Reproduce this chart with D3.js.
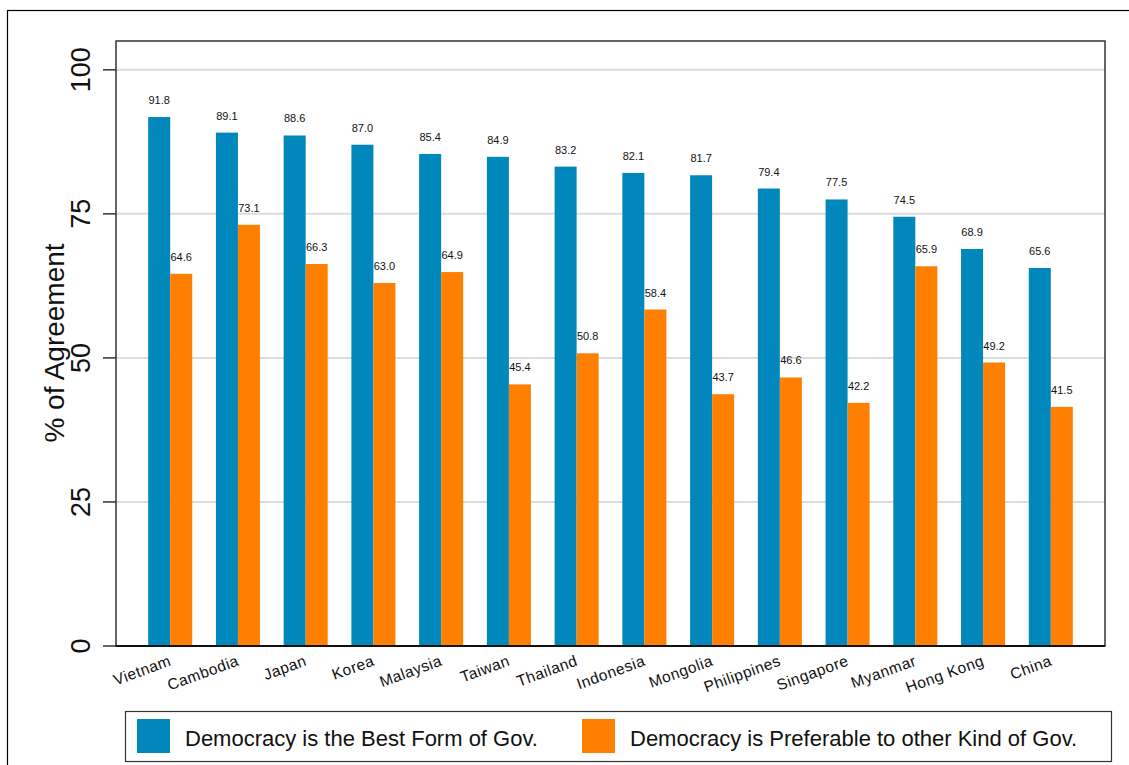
<!DOCTYPE html>
<html>
<head>
<meta charset="utf-8">
<script src="https://cdn.jsdelivr.net/npm/d3@7"></script>
<style>
  body { margin: 0; background: #fff; }
  text { font-family: "Liberation Sans", Arial, sans-serif; fill: #111; }
</style>
</head>
<body>
<svg id="chart" width="1129" height="765"></svg>
<script>
const countries = ["Vietnam", "Cambodia", "Japan", "Korea", "Malaysia", "Taiwan", "Thailand",
  "Indonesia", "Mongolia", "Philippines", "Singapore", "Myanmar", "Hong Kong", "China"];
const bestForm = [91.8, 89.1, 88.6, 87.0, 85.4, 84.9, 83.2, 82.1, 81.7, 79.4, 77.5, 74.5, 68.9, 65.6];
const preferable = [64.6, 73.1, 66.3, 63.0, 64.9, 45.4, 50.8, 58.4, 43.7, 46.6, 42.2, 65.9, 49.2, 41.5];
const yTicks = [0, 25, 50, 75, 100];
const seriesNames = ["Democracy is the Best Form of Gov.", "Democracy is Preferable to other Kind of Gov."];
const colors = ["#0088bd", "#ff8000"];

const svg = d3.select("#chart");

// outer frame (runs past the right/bottom edge)
svg.append("rect")
  .attr("x", 7.5).attr("y", 10.5)
  .attr("width", 1140).attr("height", 780)
  .attr("fill", "none").attr("stroke", "#000").attr("stroke-width", 1.2);

const plot = {left: 116, top: 41, right: 1105, bottom: 646};

const x = d3.scaleBand()
  .domain(countries)
  .range([plot.left, plot.right])
  .paddingInner(0)
  .paddingOuter(0.3);

const y = d3.scaleLinear()
  .domain([0, 105])
  .range([plot.bottom, plot.top]);

const barW = x.step() * 0.325;

// grid
svg.append("g").selectAll("line")
  .data(yTicks.filter(d => d > 0))
  .enter().append("line")
  .attr("x1", plot.left).attr("x2", plot.right)
  .attr("y1", d => y(d)).attr("y2", d => y(d))
  .attr("stroke", "#dcdcdc").attr("stroke-width", 2);

// bars
const series = [bestForm, preferable];
series.forEach((vals, s) => {
  const g = svg.append("g");
  g.selectAll("rect")
    .data(countries)
    .enter().append("rect")
    .attr("x", (d, i) => x(d) + x.bandwidth() / 2 + (s === 0 ? -barW : 0))
    .attr("y", (d, i) => y(vals[i]))
    .attr("width", barW)
    .attr("height", (d, i) => y(0) - y(vals[i]))
    .attr("fill", colors[s]);

  g.selectAll("text")
    .data(countries)
    .enter().append("text")
    .attr("x", (d, i) => x(d) + x.bandwidth() / 2 + (s === 0 ? -barW / 2 : barW / 2))
    .attr("y", (d, i) => y(vals[i]) - 13)
    .attr("text-anchor", "middle")
    .style("font-size", "11px")
    .text((d, i) => vals[i].toFixed(1));
});

// plot border
svg.append("rect")
  .attr("x", plot.left).attr("y", plot.top)
  .attr("width", plot.right - plot.left).attr("height", plot.bottom - plot.top)
  .attr("fill", "none").attr("stroke", "#333").attr("stroke-width", 1.5);
svg.append("line")
  .attr("x1", plot.left).attr("x2", plot.right)
  .attr("y1", plot.bottom).attr("y2", plot.bottom)
  .attr("stroke", "#111").attr("stroke-width", 2);

// y axis ticks and labels
const yAxis = svg.append("g");
yAxis.selectAll("line")
  .data(yTicks)
  .enter().append("line")
  .attr("x1", plot.left - 13).attr("x2", plot.left)
  .attr("y1", d => y(d)).attr("y2", d => y(d))
  .attr("stroke", "#333").attr("stroke-width", 1.5);
yAxis.selectAll("text")
  .data(yTicks)
  .enter().append("text")
  .attr("transform", d => `translate(90,${y(d)}) rotate(-90)`)
  .attr("text-anchor", "middle")
  .style("font-size", "27px")
  .text(d => d);

svg.append("text")
  .attr("transform", `translate(64,343) rotate(-90)`)
  .attr("text-anchor", "middle")
  .style("font-size", "28px")
  .text("% of Agreement");

// x labels
svg.append("g").selectAll("text")
  .data(countries)
  .enter().append("text")
  .attr("transform", d => `translate(${x(d) + x.bandwidth() / 2 + 2},665) rotate(-20)`)
  .attr("text-anchor", "end")
  .style("font-size", "15.5px")
  .style("letter-spacing", "0.5px")
  .text(d => d);

// legend
const legend = svg.append("g");
legend.append("rect")
  .attr("x", 125.5).attr("y", 711.5)
  .attr("width", 986).attr("height", 50)
  .attr("fill", "#fff").attr("stroke", "#333").attr("stroke-width", 1.2);
const legX = [137, 582];
seriesNames.forEach((name, i) => {
  legend.append("rect")
    .attr("x", legX[i]).attr("y", 719)
    .attr("width", 33).attr("height", 34)
    .attr("fill", colors[i]);
  legend.append("text")
    .attr("x", legX[i] + 48).attr("y", 746)
    .style("font-size", "22px")
    .text(name);
});
</script>
</body>
</html>
